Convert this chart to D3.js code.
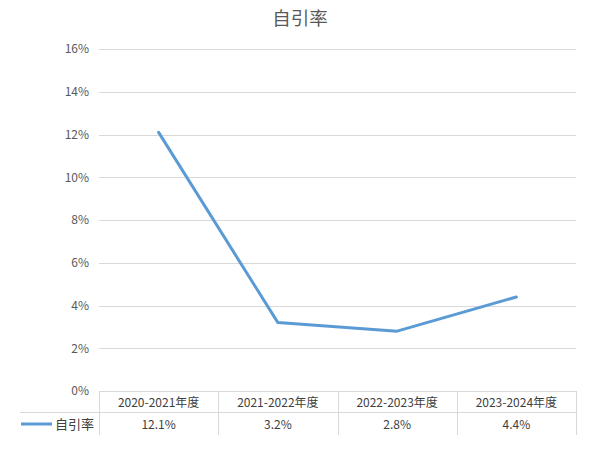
<!DOCTYPE html>
<html><head><meta charset="utf-8">
<script src="https://cdn.jsdelivr.net/npm/d3@7"></script>
<style>body{margin:0;background:#fff}svg{display:block}</style>
</head><body>
<script>
const categories = ["2020-2021年度","2021-2022年度","2022-2023年度","2023-2024年度"];
const values = [0.121, 0.032, 0.028, 0.044];
const valueLabels = ["12.1%","3.2%","2.8%","4.4%"];
const yTicks = [0,0.02,0.04,0.06,0.08,0.10,0.12,0.14,0.16];
const seriesName = "自引率";
const title = "自引率";

(function(){
const W=601,H=455;
const mLeft=99,mRight=576,mTop=49,mBottom=391;
const font = "'Noto Sans CJK SC','Microsoft YaHei',sans-serif";
const svg=d3.select("body").append("svg").attr("width",W).attr("height",H);

const x=d3.scaleBand().domain(categories).range([mLeft,mRight]);
const y=d3.scaleLinear().domain([0,0.16]).range([mBottom,mTop]);

// gridlines
svg.append("g").selectAll("line").data(yTicks).join("line")
  .attr("x1",mLeft).attr("x2",mRight)
  .attr("y1",d=>Math.round(y(d))+0.5).attr("y2",d=>Math.round(y(d))+0.5)
  .attr("stroke","#d9d9d9").attr("stroke-width",1);

// y axis labels
const yAxis=d3.axisLeft(y).tickValues(yTicks).tickFormat(d3.format(".0%")).tickSize(0).tickPadding(10);
const ga=svg.append("g").attr("transform",`translate(${mLeft},0)`).call(yAxis);
ga.select(".domain").remove();
ga.selectAll("text").attr("fill","#595959").style("font-family",font).style("font-size","12px");

// title
svg.append("text").attr("x",300).attr("y",25).attr("text-anchor","middle")
  .attr("fill","#595959").style("font-family",font).style("font-size","18.5px").text(title);

// data table
const rowH=22;
const tg=svg.append("g").attr("stroke","#d9d9d9").attr("stroke-width",1);
const bounds=[mLeft,...categories.map(c=>x(c)+x.bandwidth())];
tg.selectAll("line.v").data(bounds).join("line")
  .attr("x1",d=>Math.round(d)+0.5).attr("x2",d=>Math.round(d)+0.5)
  .attr("y1",mBottom).attr("y2",mBottom+rowH*2);
tg.append("line").attr("x1",20).attr("x2",mRight).attr("y1",mBottom+rowH-0.5).attr("y2",mBottom+rowH-0.5);

svg.append("g").selectAll("text").data(categories).join("text")
  .attr("x",d=>x(d)+x.bandwidth()/2).attr("y",mBottom+15.5)
  .attr("text-anchor","middle").attr("fill","#404040")
  .style("font-family",font).style("font-size","12px").text(d=>d);
svg.append("g").selectAll("text").data(valueLabels).join("text")
  .attr("x",(d,i)=>x(categories[i])+x.bandwidth()/2).attr("y",mBottom+rowH+15.5)
  .attr("text-anchor","middle").attr("fill","#404040")
  .style("font-family",font).style("font-size","12px").text(d=>d);

// legend key
svg.append("line").attr("x1",21).attr("x2",52).attr("y1",mBottom+rowH+11).attr("y2",mBottom+rowH+11)
  .attr("stroke","#5B9BD5").attr("stroke-width",3);
svg.append("text").attr("x",55).attr("y",mBottom+rowH+16).attr("fill","#404040")
  .style("font-family",font).style("font-size","13px").text(seriesName);

// line
const line=d3.line().x((d,i)=>x(categories[i])+x.bandwidth()/2).y(d=>y(d));
svg.append("path").datum(values).attr("d",line).attr("fill","none")
  .attr("stroke","#5B9BD5").attr("stroke-width",3).attr("stroke-linejoin","round").attr("stroke-linecap","round");
})();
</script>
</body></html>
